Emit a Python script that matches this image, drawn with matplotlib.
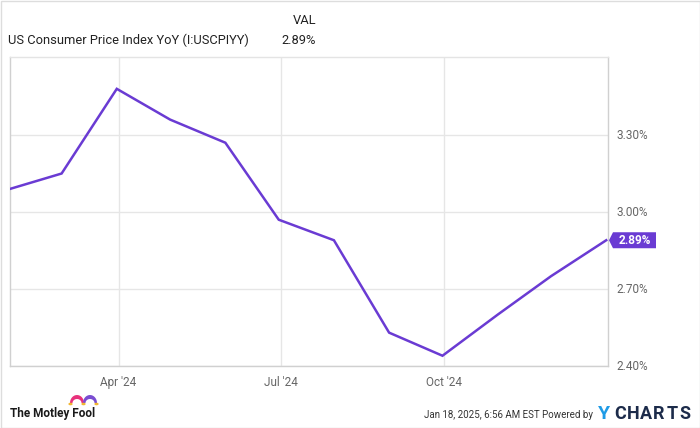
import datetime as dt

import numpy as np
import matplotlib.pyplot as plt
import matplotlib.dates as mdates
from matplotlib.patches import Polygon, Rectangle, Circle

plt.rcParams['font.family'] = ['Roboto', 'DejaVu Sans']

# US CPI YoY, monthly (month-end dates)
dates = [dt.date(2024, 1, 31), dt.date(2024, 2, 29), dt.date(2024, 3, 31),
         dt.date(2024, 4, 30), dt.date(2024, 5, 31), dt.date(2024, 6, 30),
         dt.date(2024, 7, 31), dt.date(2024, 8, 31), dt.date(2024, 9, 30),
         dt.date(2024, 10, 31), dt.date(2024, 11, 30), dt.date(2024, 12, 31)]
cpi = [3.09, 3.15, 3.48, 3.36, 3.27, 2.97, 2.89, 2.53, 2.44, 2.60, 2.75, 2.89]

y_ticks = [2.40, 2.70, 3.00, 3.30]
x_ticks = [dt.date(2024, 4, 1), dt.date(2024, 7, 1), dt.date(2024, 10, 1)]
x_labels = ["Apr '24", "Jul '24", "Oct '24"]

series_name = "US Consumer Price Index YoY (I:USCPIYY)"
last_val = "2.89%"

purple = '#6a3bd3'
grid_c = '#e6e6e6'
frame_c = '#d0d0d0'
text_c = '#666666'

W, H = 700, 428


def fpos(x, y):
    """pixel position from top-left -> figure fraction"""
    return (x / W, 1 - y / H)


fig = plt.figure(figsize=(W / 100, H / 100), dpi=100)
ax = fig.add_axes([10 / W, 1 - 366 / H, 598 / W, 309 / H])

ax.plot(dates, cpi, color=purple, lw=1.8, solid_joinstyle='miter', zorder=3)

ax.set_xlim(dt.date(2024, 1, 31), dt.date(2025, 1, 1))
ax.set_ylim(2.40, 3.604)

ax.set_xticks([mdates.date2num(d) for d in x_ticks])
ax.set_xticklabels(x_labels)
ax.set_yticks(y_ticks)
ax.set_yticklabels(['%.2f%%' % v for v in y_ticks])
ax.yaxis.tick_right()
ax.tick_params(axis='both', length=0, labelsize=8.5, colors=text_c)
ax.tick_params(axis='y', pad=6)
ax.tick_params(axis='x', pad=7)
for lbl in ax.get_yticklabels():
    lbl.set_verticalalignment('center')

ax.grid(True, color=grid_c, lw=1)
ax.set_axisbelow(True)
for s in ax.spines.values():
    s.set_color(frame_c)
    s.set_linewidth(1)
ax.spines['top'].set_color('#e4e4e4')

# last value flag on the right axis
fig.canvas.draw()
px, py = ax.transData.transform((mdates.date2num(dt.date(2025, 1, 1)), cpi[-1]))
inv = fig.transFigure.inverted()
pts = [(px + 1, py), (px + 5, py + 8), (px + 48, py + 8),
       (px + 48, py - 8), (px + 5, py - 8)]
flag = Polygon([inv.transform(p) for p in pts], closed=True, transform=fig.transFigure,
               facecolor=purple, edgecolor='none', clip_on=False)
fig.patches.append(flag)
tx, ty = inv.transform((px + 27, py))
fig.text(tx, ty, last_val, color='white', fontsize=8.5, fontweight='bold',
         ha='center', va='center')

# header
fig.text(*fpos(8, 40), series_name, fontsize=9.3, color='#222222', va='center')
fig.text(*fpos(316, 21), 'VAL', fontsize=9.3, color='#222222', va='center', ha='right')
fig.text(*fpos(316, 40), last_val, fontsize=9.3, color='#222222', va='center', ha='right')

# footer: Motley Fool logo
fig.text(*fpos(10, 414), 'The Motley Fool', fontsize=8.5, fontweight='bold',
         color='#1a1a1a', va='center')
t = np.linspace(0, np.pi, 20)
for cx, col in ((77, '#e8327c'), (90, '#7a4dd1')):
    outer = [fpos(cx + 7 * np.cos(a), 403 - 8 * np.sin(a)) for a in t]
    inner = [fpos(cx + 4.5 * np.cos(a), 403 - 4 * np.sin(a)) for a in t[::-1]]
    fig.patches.append(Polygon(outer + inner, closed=True, transform=fig.transFigure,
                               facecolor=col, edgecolor='none'))
for hx in (70.5, 83.5, 96.5):
    fig.patches.append(Circle(fpos(hx, 404), 1.3 / H, transform=fig.transFigure,
                              facecolor='#f2b632', edgecolor='none'))

# footer: timestamp and YCharts
fig.text(*fpos(593, 415), 'Jan 18, 2025, 6:56 AM EST Powered by', fontsize=7,
         color='#333333', va='center', ha='right')
fig.text(*fpos(598, 414), 'Y', fontsize=14, fontweight='bold', color='#1e9be6', va='center')
for i, ch in enumerate('CHARTS'):
    fig.text(*fpos(620 + i * 13, 414), ch, fontsize=13, fontweight='bold',
             color='#1c2b4a', va='center', ha='center')

# outer border
fig.patches.append(Rectangle((0.5 / W, 0.5 / H), 1 - 1 / W, 1 - 1 / H, transform=fig.transFigure,
                             facecolor='none', edgecolor='#dddddd', lw=1))

fig.savefig('out.png', dpi=100)
